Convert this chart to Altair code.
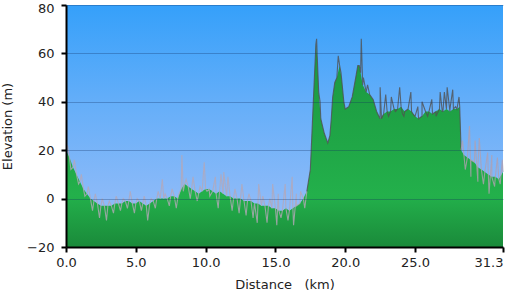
import altair as alt
import pandas as pd

# Smoothed terrain profile (km, m)
smooth_km = [0.0, 0.25, 0.5, 0.75, 1.0, 1.25, 1.5, 1.75, 2.0, 2.25, 2.5, 2.75, 3.0, 3.25, 3.5, 3.75,
             4.0, 4.25, 4.5, 4.75, 5.0, 5.25, 5.5, 5.75, 6.0, 6.25, 6.5, 6.75, 7.0, 7.25, 7.5, 7.75,
             8.0, 8.25, 8.5, 8.75, 9.0, 9.25, 9.5, 9.75, 10.0, 10.25, 10.5, 10.75, 11.0, 11.25, 11.5,
             11.75, 12.0, 12.25, 12.5, 12.75, 13.0, 13.25, 13.5, 13.75, 14.0, 14.25, 14.5, 14.75, 15.0,
             15.25, 15.5, 15.75, 16.0, 16.25, 16.5, 16.75, 17.0, 17.25, 17.5, 17.6, 17.75, 17.9, 18.0,
             18.1, 18.25, 18.5, 18.75, 18.9, 19.0, 19.1, 19.25, 19.4, 19.6, 19.75, 19.9, 20.0, 20.25,
             20.5, 20.75, 20.9, 21.0, 21.1, 21.25, 21.5, 21.75, 22.0, 22.25, 22.5, 22.75, 23.0, 23.25,
             23.5, 23.75, 24.0, 24.25, 24.5, 24.75, 25.0, 25.25, 25.5, 25.75, 26.0, 26.25, 26.5, 26.75,
             27.0, 27.25, 27.5, 27.75, 28.0, 28.2, 28.3, 28.5, 28.75, 29.0, 29.25, 29.5, 29.75, 30.0,
             30.25, 30.5, 30.75, 31.0, 31.3]
smooth_m = [20, 17, 13, 10, 7, 4, 2, 0, -1, -2, -3, -3, -3, -3, -2, -2,
            -2, -1, -1, -2, -2, -1, -2, -3, -2, -1, 0, 0, 0, 0, 1, 1,
            0, 4, 6, 5, 4, 3, 2, 3, 4, 4, 3, 2, 3, 2, 1,
            1, 0, 0, 0, -1, -1, -1, -2, -2, -3, -3, -3, -4, -4,
            -5, -5, -4, -5, -4, -3, -2, 0, 3, 12, 25, 45, 64, 58,
            44, 33, 27, 23, 26, 33, 42, 48, 50, 55, 49, 40, 37, 38,
            42, 50, 55, 55, 52, 47, 44, 43, 41, 36, 33, 35, 36, 36,
            37, 37, 38, 36, 37, 36, 34, 33, 34, 36, 36, 35, 36, 37,
            36, 37, 36, 37, 37, 38, 20, 18, 17, 16, 15, 13, 12, 11,
            10, 9, 9, 8, 11]

# Measurement noise spikes (km, m)
spike_km = [0.1, 0.35, 0.6, 0.9, 1.1, 1.35, 1.6, 1.9, 2.1, 2.4, 2.6, 2.9, 3.1, 3.4, 3.6, 3.9,
            4.1, 4.4, 4.6, 4.9, 5.1, 5.4, 5.6, 5.85, 6.1, 6.4, 6.6, 6.9, 7.1, 7.4, 7.6, 7.9,
            8.1, 8.3, 8.4, 8.6, 8.9, 9.1, 9.4, 9.6, 9.9, 10.1, 10.3, 10.6, 10.7, 10.9, 11.1, 11.3,
            11.6, 11.9, 12.1, 12.4, 12.6, 12.9, 13.1, 13.4, 13.7, 13.8, 14.1, 14.4, 14.6, 14.8,
            15.1, 15.2, 15.4, 15.7, 15.9, 16.2, 16.3, 16.5, 16.8, 17.1,
            17.95, 18.2, 19.5, 19.7, 21.15, 21.3, 21.6, 22.5, 22.6, 22.9, 23.1, 23.3, 23.6, 23.9,
            24.1, 24.2, 24.7, 24.85, 25.2, 25.5, 25.9, 26.2, 26.5, 26.8, 26.95, 27.1, 27.3, 27.5,
            27.7, 27.9, 28.15,
            28.4, 28.6, 28.9, 29.0, 29.3, 29.5, 29.6, 29.9, 30.2, 30.3, 30.5, 30.7, 30.9, 31.1, 31.25]
spike_m = [22, 12, 16, 6, 10, 1, 5, -5, 2, -8, 0, -9, -1, -6, 1, -5,
           0, -4, 3, -6, 0, -5, 1, -9, 0, -4, 3, 8, 2, -3, 4, -4,
           2, 18, 3, 8, 0, 9, -1, 5, 15, 3, 1, 6, 9, -4, 10, 11,
           9, -5, 4, -6, 6, -7, 2, -8, -10, 6, 1, -10, 0, 6,
           -11, 2, -8, 6, -9, 9, -11, 2, 3, -4,
           66, 40, 59, 52, 66, 50, 47, 46, 33, 43, 34, 42, 36, 46,
           35, 34, 44, 35, 38, 40, 34, 41, 34, 44, 36, 44, 46, 37,
           45, 38, 42,
           24, 12, 30, 9, 24, 7, 25, 6, 19, 2, 18, 5, 17, 6, 16]

y_ticks = [-20, 0, 20, 40, 60, 80]
x_ticks = [0, 5, 10, 15, 20, 25, 31.3]

area_df = pd.DataFrame({"km": smooth_km, "m": smooth_m})
pts = pd.concat([
    pd.DataFrame({"km": smooth_km, "m": smooth_m}),
    pd.DataFrame({"km": spike_km, "m": spike_m}),
]).sort_values("km").reset_index(drop=True)

parts = []
for name, lo, hi in [("a", -1, 17.25), ("b", 17.25, 28.3), ("c", 28.3, 99)]:
    seg = pts[(pts.km >= lo) & (pts.km <= hi)].copy()
    seg["part"] = name
    parts.append(seg)
line_df = pd.concat(parts).reset_index(drop=True)

bg_df = pd.DataFrame({"x0": [0], "x1": [31.3], "y0": [-20], "y1": [80]})

xscale = alt.Scale(domain=[0, 31.3], nice=False, zero=False)
yscale = alt.Scale(domain=[-20, 80], nice=False)

xaxis = alt.Axis(values=x_ticks, format=".1f", grid=False, title="Distance\u00a0\u00a0\u00a0(km)",
                 labelAlign={"expr": "datum.value > 31 ? 'right' : 'center'"},
                 tickSize=5, labelPadding=4, titlePadding=9, zindex=1)
yaxis = alt.Axis(values=y_ticks, grid=True, title="Elevation (m)", tickSize=5, labelPadding=7,
                 labelOffset={"expr": "datum.value > 70 ? 3 : 0"},
                 titlePadding=12, zindex=1)

bg = alt.Chart(bg_df).mark_rect(
    color=alt.Gradient(gradient="linear", x1=0, x2=0, y1=0, y2=1,
                       stops=[alt.GradientStop(offset=0, color="#35a0fa"),
                              alt.GradientStop(offset=0.4, color="#64aef9"),
                              alt.GradientStop(offset=0.8, color="#8cbaf8"),
                              alt.GradientStop(offset=1, color="#98c0f7")])
).encode(
    x=alt.X("x0:Q", scale=xscale, axis=xaxis),
    x2="x1:Q",
    y=alt.Y("y0:Q", scale=yscale, axis=yaxis),
    y2="y1:Q",
)

area = alt.Chart(area_df).mark_area(
    color=alt.Gradient(gradient="linear", x1=0, x2=0, y1=0, y2=1,
                       stops=[alt.GradientStop(offset=0, color="#1b9640"),
                              alt.GradientStop(offset=0.5, color="#20a747"),
                              alt.GradientStop(offset=0.75, color="#23b04b"),
                              alt.GradientStop(offset=1, color="#1a8a3a")])
).encode(
    x=alt.X("km:Q", scale=xscale),
    y=alt.Y("m:Q", scale=yscale),
    y2=alt.datum(-20),
)

line = alt.Chart(line_df).mark_line(strokeWidth=1.1, opacity=0.8).encode(
    x=alt.X("km:Q", scale=xscale),
    y=alt.Y("m:Q", scale=yscale),
    color=alt.Color("part:N", scale=alt.Scale(domain=["a", "b", "c"],
                                              range=["#b4a8b8", "#505050", "#b0a0b0"]), legend=None),
)

chart = alt.layer(bg, area, line).properties(
    width=437, height=242,
    autosize=alt.AutoSizeParams(type="none"),
    padding={"left": 66, "top": 5, "right": 4, "bottom": 50},
).configure_view(stroke=None).configure_axis(
    domainColor="black", domainWidth=2, tickColor="black", tickWidth=2,
    labelFont="DejaVu Sans", labelFontSize=13, labelColor="#222",
    titleFont="DejaVu Sans", titleFontSize=13, titleColor="#222", titleFontWeight="normal",
    gridColor="#103060", gridOpacity=0.3, gridWidth=1,
)

chart.save("out.html", embed_options={"renderer": "svg", "actions": False})
